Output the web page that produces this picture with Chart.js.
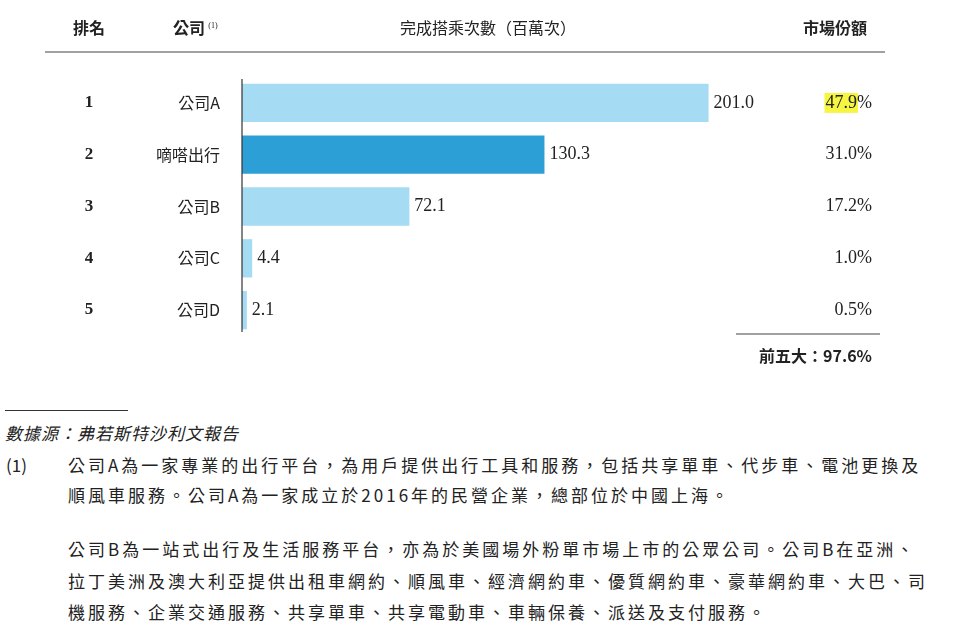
<!DOCTYPE html>
<html>
<head>
<meta charset="utf-8">
<script src="https://cdn.jsdelivr.net/npm/chart.js@4"></script>
<style>
body { margin: 0; background: #fff; width: 960px; height: 643px; overflow: hidden; position: relative; }
#wrap { position: absolute; left: 0; top: 0; width: 960px; height: 390px; }
.note { position: absolute; font-family: "Noto Sans CJK TC", "Liberation Serif", serif; font-size: 17px; color: #222; white-space: nowrap; letter-spacing: 3px; }
</style>
</head>
<body>
<div id="wrap"><canvas id="chart"></canvas></div>
<div style="position:absolute;left:5px;top:410px;width:123px;border-top:1px solid #333"></div>
<div class="note" style="left:5px;top:420px;font-style:italic;letter-spacing:1px">數據源：弗若斯特沙利文報告</div>
<div class="note" style="left:6px;top:452px;letter-spacing:0">(1)</div>
<div class="note" style="left:68px;top:452px">公司A為一家專業的出行平台，為用戶提供出行工具和服務，包括共享單車、代步車、電池更換及</div>
<div class="note" style="left:68px;top:482px">順風車服務。公司A為一家成立於2016年的民營企業，總部位於中國上海。</div>
<div class="note" style="left:68px;top:536px">公司B為一站式出行及生活服務平台，亦為於美國場外粉單市場上市的公眾公司。公司B在亞洲、</div>
<div class="note" style="left:68px;top:568px">拉丁美洲及澳大利亞提供出租車網約、順風車、經濟網約車、優質網約車、豪華網約車、大巴、司</div>
<div class="note" style="left:68px;top:599px">機服務、企業交通服務、共享單車、共享電動車、車輛保養、派送及支付服務。</div>
<script>
const ranks = ['1', '2', '3', '4', '5'];
const companies = ['公司A', '嘀嗒出行', '公司B', '公司C', '公司D'];
const rides = [201.0, 130.3, 72.1, 4.4, 2.1];
const shares = ['47.9%', '31.0%', '17.2%', '1.0%', '0.5%'];
const totalLabel = '前五大：97.6%';
const barColors = ['#a6dbf4', '#2c9fd6', '#a6dbf4', '#a6dbf4', '#a6dbf4'];

const serif = '"Liberation Serif", serif';
const cjk = '"Noto Sans CJK TC", sans-serif';

const tablePlugin = {
    id: 'table',
    afterDraw(chart) {
        const c = chart.ctx;
        const y = chart.scales.y;
        const x = chart.scales.x;
        c.save();
        c.fillStyle = '#222';
        c.textBaseline = 'middle';
        // header
        c.font = 'bold 16px ' + cjk;
        c.textAlign = 'center';
        c.fillText('排名', 89, 28);
        c.fillText('公司', 189, 28);
        c.font = '8px ' + serif;
        c.fillText('(1)', 213, 26);
        c.font = '16px ' + cjk;
        c.fillText('完成搭乘次數（百萬次）', 488, 28);
        c.font = 'bold 16px ' + cjk;
        c.fillText('市場份額', 835, 28);
        c.strokeStyle = '#444';
        c.lineWidth = 1.2;
        c.beginPath();
        c.moveTo(45, 52); c.lineTo(885, 52);
        c.moveTo(736, 334); c.lineTo(880, 334);
        c.stroke();
        // axis line
        c.strokeStyle = '#333';
        c.beginPath();
        c.moveTo(x.getPixelForValue(0), y.top + 2);
        c.lineTo(x.getPixelForValue(0), y.bottom - 4);
        c.stroke();
        ranks.forEach((r, i) => {
            const py = y.getPixelForValue(i);
            c.textAlign = 'center';
            c.font = 'bold 17px ' + serif;
            c.fillStyle = '#222';
            c.fillText(r, 89, py);
            c.textAlign = 'right';
            c.font = '16px ' + cjk;
            c.fillText(companies[i], 220, py);
            c.textAlign = 'left';
            c.font = '18px ' + serif;
            c.fillText(rides[i].toFixed(1), x.getPixelForValue(rides[i]) + 5, py);
            c.textAlign = 'right';
            if (i === 0) {
                const w = c.measureText(shares[i].replace('%', '')).width;
                const pw = c.measureText('%').width;
                c.fillStyle = '#f5f542';
                c.fillRect(872 - pw - w - 1, py - 10, w + 2, 20);
                c.fillStyle = '#222';
            }
            c.fillText(shares[i], 872, py);
        });
        c.font = 'bold 16px ' + cjk;
        c.fillText(totalLabel, 872, 356);
        c.restore();
    }
};

const chart = new Chart(document.getElementById('chart'), {
    type: 'bar',
    data: {
        labels: companies,
        datasets: [{
            data: rides,
            backgroundColor: barColors,
            barPercentage: 0.74,
            categoryPercentage: 1
        }]
    },
    options: {
        indexAxis: 'y',
        responsive: true,
        maintainAspectRatio: false,
        animation: false,
        layout: { padding: { left: 242, right: 75, top: 77, bottom: 54 } },
        plugins: { legend: { display: false }, tooltip: { enabled: false } },
        scales: {
            x: { min: 0, max: 277, display: false },
            y: { display: false }
        }
    },
    plugins: [tablePlugin]
});
</script>
</body>
</html>
